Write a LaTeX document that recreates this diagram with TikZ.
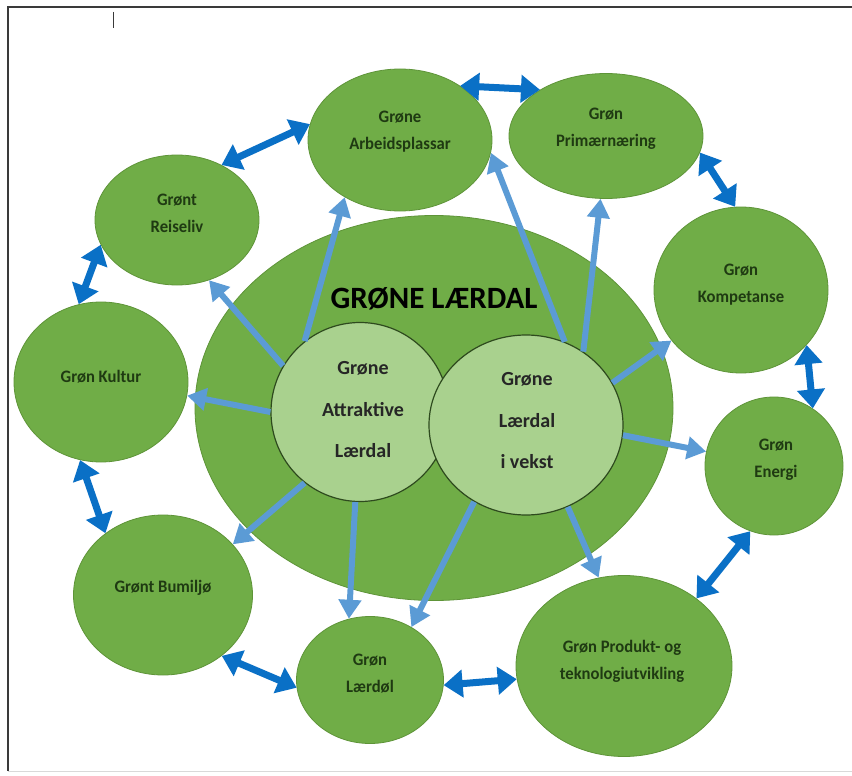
\documentclass[tikz,border=0pt]{standalone}
\usepackage{fontspec}
\setmainfont{Carlito}
\newfontfamily\lblfont[FakeStretch=0.95]{Carlito}
\usetikzlibrary{shapes.geometric,arrows.meta}
\definecolor{outerg}{HTML}{70AD47}
\definecolor{outerb}{HTML}{5E9438}
\definecolor{innerg}{HTML}{A9D18E}
\definecolor{innerb}{HTML}{2E4A1E}
\definecolor{darkblue}{HTML}{0A70C6}
\definecolor{lightblue}{HTML}{5B9BD5}
\definecolor{txtg}{HTML}{1F3A12}
\definecolor{framec}{HTML}{3A3A3A}
\tikzset{
 bubble/.style={ellipse, fill=outerg, draw=outerb, line width=0.8pt, inner sep=0pt},
 core/.style={ellipse, fill=innerg, draw=innerb, line width=1.2pt, inner sep=0pt},
 lbl/.style={font=\lblfont\fontsize{17.5}{27}\selectfont\bfseries, text=txtg, align=center},
 corelbl/.style={font=\fontsize{20}{41.5}\selectfont\bfseries, text=black!85, align=center},
 link/.style={darkblue, line width=7pt, {Triangle[width=27pt,length=19pt]}-{Triangle[width=27pt,length=19pt]}},
 feed/.style={lightblue, line width=6pt, -{Triangle[width=22pt,length=19pt]}},
}
\begin{document}
\begin{tikzpicture}[x=1pt,y=-1pt]
\useasboundingbox (0,0) rectangle (852,776);
\fill[white] (0,0) rectangle (852,776);
% frame
\draw[framec, line width=2pt] (852,7) -- (8,7) -- (8,771);
\draw[black!15, line width=1pt] (8,771) -- (852,771);
\draw[framec, line width=1pt] (113,12) -- (113,28);

% big ellipse
\node[bubble, minimum width=478pt, minimum height=385pt] (big) at (434,408) {};
\node[font=\fontsize{31}{32}\selectfont\bfseries, text=black] (title) at (434,299) {GRØNE LÆRDAL};

% outer bubbles
\node[bubble, minimum width=184pt, minimum height=142pt] (arb) at (400,140) {};
\node[bubble, minimum width=194pt, minimum height=125pt] (prim) at (606,136) {};
\node[bubble, minimum width=164pt, minimum height=130pt] (reis) at (177,220) {};
\node[bubble, minimum width=174pt, minimum height=166pt] (komp) at (741,290) {};
\node[bubble, minimum width=174pt, minimum height=160pt] (kult) at (101,382) {};
\node[bubble, minimum width=138pt, minimum height=138pt] (energi) at (774,466) {};
\node[bubble, minimum width=179pt, minimum height=160pt] (bum) at (163,595) {};
\node[bubble, minimum width=147pt, minimum height=127pt] (laer) at (370,680) {};
\node[bubble, minimum width=216pt, minimum height=181pt] (prod) at (624,666) {};

\node[lbl] (arbt) at (400,132) {Grøne\\Arbeidsplassar};
\node[lbl] (primt) at (606,129) {Grøn\\Primærnæring};
\node[lbl] (reist) at (177,213.5) {Grønt\\Reiseliv};
\node[lbl] (kompt) at (741,284.5) {Grøn\\Kompetanse};
\node[lbl] (kultt) at (101,377) {Grøn Kultur};
\node[lbl] (energit) at (776,460) {Grøn\\Energi};
\node[lbl] (bumt) at (163,588) {Grønt Bumiljø};
\node[lbl] (laert) at (370,673.5) {Grøn\\Lærdøl};
\node[lbl] (prodt) at (622,661) {Grøn Produkt- og\\teknologiutvikling};

% inner circles
\node[core, minimum width=178pt, minimum height=179pt] (att) at (360,412) {};
\node[core, minimum width=194pt, minimum height=180pt] (vekst) at (526,425) {};
\node[corelbl] (attt) at (363,410) {Grøne\\Attraktive\\Lærdal};
\node[corelbl] (vekstt) at (527,421) {Grøne\\Lærdal\\i vekst};

% light arrows
\draw[feed] (att.149.7) -- (reis.-62);
\draw[feed] (att.128.4) -- (arb.-134);
\draw[feed] (att.180.6) -- (kult.-9.8);
\draw[feed] (att.-128) -- (bum.36);
\draw[feed] (att.-93) -- (laer.109);
\draw[feed] (vekst.65.8) -- (arb.-8);
\draw[feed] (vekst.52.9) -- (prim.-95);
\draw[feed] (vekst.26.8) -- (komp.-144);
\draw[feed] (vekst.-6) -- (energi.168.5);
\draw[feed] (vekst.-63) -- (prod.106);
\draw[feed] (vekst.-124) -- (laer.52);

% dark double arrows
\draw[link] (reis.51.7) -- (arb.170.7);
\draw[link] (arb.42.4) -- (prim.145.5);
\draw[link] (prim.-10) -- (komp.94);
\draw[link] (komp.-40.5) -- (energi.56);
\draw[link] (energi.-110) -- (prod.43);
\draw[link] (prod.187) -- (laer.-4);
\draw[link] (laer.186) -- (bum.-46.5);
\draw[link] (bum.133) -- (kult.-105);
\draw[link] (kult.106) -- (reis.-162);
\end{tikzpicture}
\end{document}
